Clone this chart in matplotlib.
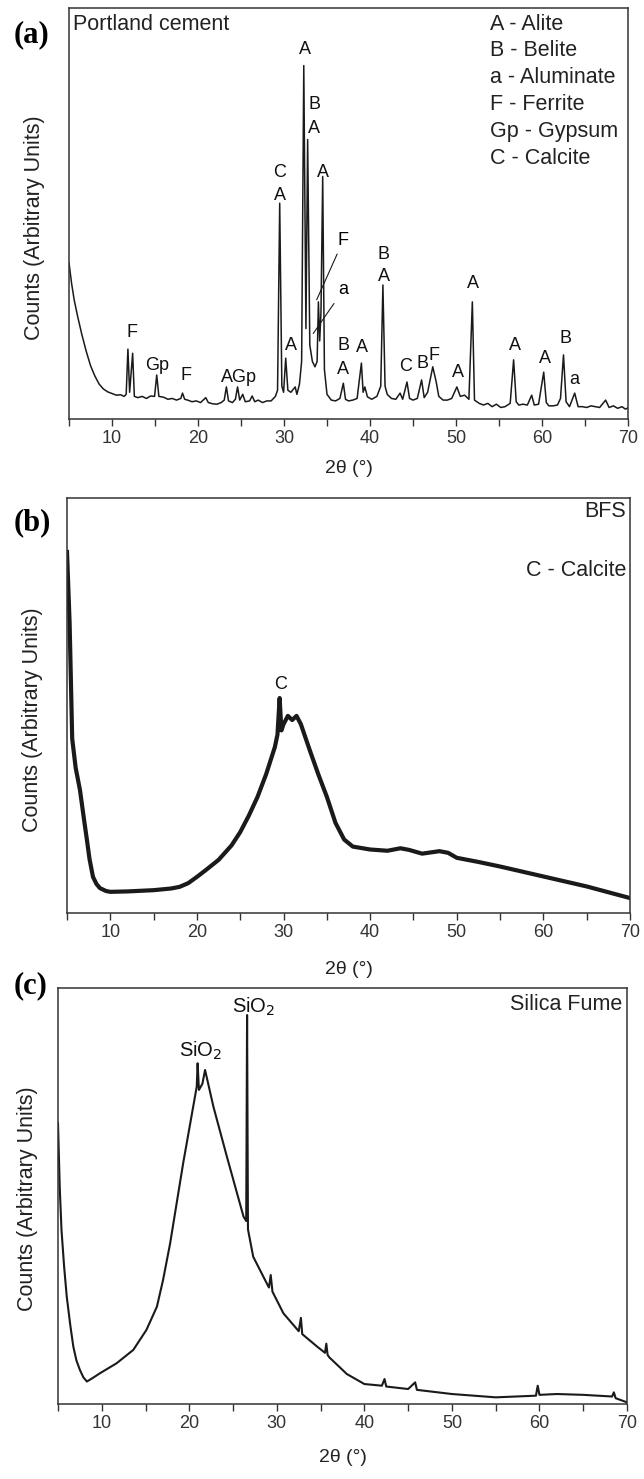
import matplotlib
matplotlib.use("Agg")
import matplotlib.pyplot as plt
from matplotlib.ticker import MultipleLocator

plt.rcParams['font.family'] = ['Liberation Sans', 'DejaVu Sans']

# (a) Portland cement: 2theta / counts
tt_a = [5.0, 5.3, 5.6, 6.0, 6.5, 7.0, 7.5, 8.0, 8.5, 9.0, 9.5, 10.0, 10.5, 11.0, 11.4,
        11.65, 11.85, 12.05, 12.4, 12.6, 13.0, 13.5, 14.0, 14.5, 14.95, 15.2, 15.45,
        16.0, 16.5, 17.0, 17.5, 18.0, 18.2, 18.45, 18.8, 19.3, 19.8, 20.3, 20.9, 21.2,
        21.7, 22.2, 22.7, 23.05, 23.3, 23.55, 24.0, 24.35, 24.6, 24.85, 25.2, 25.5, 26.0,
        26.3, 26.6, 27.0, 27.5, 28.0, 28.5, 29.0, 29.25, 29.5, 29.75, 29.95, 30.2, 30.45,
        30.8, 31.3, 31.5, 31.8, 32.05, 32.3, 32.55, 32.75, 33.0, 33.3, 33.6, 33.85, 34.0,
        34.15, 34.3, 34.5, 34.7, 35.0, 35.5, 36.0, 36.5, 36.9, 37.15, 37.5, 38.0, 38.5,
        39.0, 39.2, 39.4, 39.7, 40.2, 40.8, 41.25, 41.5, 41.75, 42.0, 42.5, 43.0, 43.5,
        43.8, 44.3, 44.6, 45.0, 45.5, 46.0, 46.3, 46.7, 47.3, 47.7, 48.0, 48.5, 49.0, 49.5,
        50.1, 50.5, 51.0, 51.5, 51.9, 52.15, 52.7, 53.2, 53.7, 54.2, 54.7, 55.2, 55.7,
        56.3, 56.7, 57.0, 57.3, 57.8, 58.3, 58.8, 59.1, 59.6, 60.2, 60.5, 60.8, 61.3,
        61.8, 62.15, 62.5, 62.8, 63.2, 63.8, 64.2, 64.7, 65.2, 65.7, 66.2, 66.7, 67.4,
        67.8, 68.3, 68.8, 69.3, 69.7, 70.0]
counts_a = [38, 33, 29, 25, 20.5, 16.5, 13, 10.5, 8.5, 7.3, 6.6, 6.2, 5.8, 5.9, 5.5,
            6.0, 17.0, 6.5, 16.0, 5.5, 5.2, 5.5, 5.0, 5.6, 5.5, 10.7, 5.5,
            5.3, 4.8, 5.0, 4.6, 5.0, 6.3, 4.8, 4.6, 4.2, 4.4, 4.0, 5.2, 4.0,
            3.7, 3.6, 4.0, 4.6, 7.8, 4.4, 4.0, 4.8, 7.8, 4.6, 6.0, 4.2, 4.4,
            5.6, 4.2, 4.6, 4.0, 4.4, 4.4, 5.5, 7.0, 52.5, 8.0, 6.5, 14.8, 7.0,
            6.5, 7.8, 6.0, 8.5, 14.0, 86.0, 22.0, 68.0, 18.0, 14.0, 12.7, 14.0, 28.5,
            19.0, 26.0, 59.0, 12.0, 6.0, 4.6, 4.4, 5.0, 8.7, 4.8, 4.4, 4.6, 5.0,
            13.6, 6.5, 7.8, 5.4, 4.8, 5.5, 8.0, 32.6, 8.0, 6.0, 5.0, 4.8, 6.3,
            4.8, 9.0, 5.0, 4.6, 5.0, 9.5, 5.2, 6.5, 12.7, 9.0, 5.5, 4.6, 4.6, 5.0,
            7.8, 5.5, 5.8, 4.8, 28.5, 4.6, 3.8, 3.4, 3.8, 3.0, 3.6, 2.8, 3.0,
            3.8, 14.4, 4.2, 3.4, 3.6, 3.4, 5.8, 3.4, 3.6, 11.4, 4.0, 3.2, 3.2,
            3.4, 5.0, 15.6, 4.2, 3.0, 6.3, 3.0, 3.0, 2.8, 3.2, 3.0, 2.8, 4.6,
            2.8, 3.2, 2.6, 3.0, 2.4, 2.7]

phase_txt_a = ["F", "Gp", "F", "AGp", "C", "A", "A", "A", "B", "A", "A", "B", "A", "A",
               "B", "A", "C", "B", "F", "A", "A", "A", "A", "B", "a"]
phase_x_a = [12.3, 15.3, 18.6, 24.8, 29.5, 29.5, 30.8, 32.4, 33.5, 33.5, 34.5, 36.9, 36.9,
             39.1, 41.6, 41.6, 44.1, 46.1, 47.4, 50.2, 52.0, 56.9, 60.4, 62.7, 63.8]
phase_y_a = [21.0, 13.1, 10.5, 10.2, 60.0, 54.3, 18.0, 90.0, 76.4, 70.8, 60.0, 18.0, 12.0,
             17.3, 40.0, 34.6, 12.7, 13.6, 15.5, 11.2, 33.0, 18.0, 14.8, 19.7, 9.5]

legend_a = ["A - Alite", "B - Belite", "a - Aluminate", "F - Ferrite", "Gp - Gypsum",
            "C - Calcite"]

# (b) BFS
tt_b = [5.0, 5.3, 5.6, 6.0, 6.5, 7.0, 7.3, 7.6, 8.0, 8.4, 8.8, 9.5, 10, 12, 14, 15, 17,
        18, 19, 20, 21, 22.5, 24, 25, 26, 27, 28, 29, 29.3, 29.55, 29.75, 30.0, 30.5,
        31.0, 31.5, 32.0, 33.0, 34.0, 35.0, 36.0, 37.0, 38.0, 40.0, 42, 43.5, 44.5, 46,
        48, 49, 50, 52.5, 55, 57.5, 60, 62.5, 65, 67.5, 70]
counts_b = [87, 70, 42, 35, 29.6, 22, 17.6, 13, 8.7, 7, 6.0, 5.3, 5.1, 5.2, 5.4, 5.5,
            5.9, 6.3, 7.2, 8.7, 10.3, 12.8, 16.3, 19.5, 23.5, 28, 33.5, 40, 43, 51.8,
            44, 45.5, 47.5, 46.5, 47.5, 45.5, 39.4, 33.5, 28, 21.7, 17.7, 16.0, 15.3,
            15.0, 15.6, 15.2, 14.3, 14.9, 14.5, 13.3, 12.3, 11.2, 10.0, 8.8, 7.6, 6.4,
            5.0, 3.6]

# (c) Silica fume
tt_c = [5.0, 5.2, 5.4, 5.7, 6.0, 6.4, 6.75, 7.1, 7.5, 7.9, 8.3, 9.0, 9.8, 11.7, 13.6,
        15.1, 16.3, 17.0, 17.8, 19.3, 20.85, 20.95, 21.1, 21.5, 21.8, 22.75, 24.3, 26.2,
        26.5, 26.6, 26.7, 27.3, 28.85, 29.1, 29.3, 29.5, 30.75, 32.5, 32.75, 32.9, 34.6,
        35.5, 35.65, 35.8, 36, 38, 40, 42, 42.3, 42.5, 45, 45.8, 46, 50, 55, 59.6, 59.8,
        60.0, 62, 65, 68.3, 68.5, 68.7, 70]
counts_c = [67.5, 52, 41.8, 33, 25.8, 19, 13.8, 10.5, 8.2, 6.4, 5.4, 6.3, 7.4, 9.8, 13.0,
            17.8, 23.4, 29.8, 38.5, 57.9, 76.3, 81.9, 75.5, 77, 80.3, 71.5, 59.4, 45.0,
            44, 93.5, 42, 35.4, 29, 28, 31, 27, 21.8, 17.5, 20.7, 16.8, 13.8,
            12.3, 14.5, 11.8, 11.2, 7.2, 4.8, 4.4, 6.0, 4.2, 3.6, 5.2, 3.4, 2.4, 1.6, 2.0,
            4.4, 2.2, 2.4, 2.2, 1.8, 2.8, 1.4, 0.4]

W, H = 644, 1479
fig = plt.figure(figsize=(W / 100, H / 100), dpi=100)

def make_axes(left, top, right, bottom):
    return fig.add_axes([left / W, 1 - bottom / H, (right - left) / W, (bottom - top) / H])

ax_a = make_axes(69, 8, 628, 419)
ax_b = make_axes(67, 498, 630, 913)
ax_c = make_axes(58, 988, 627, 1404)

ink = '#1a1a1a'
for ax, lab_y, pad in [(ax_a, 0.465, 9), (ax_b, 0.465, 14), (ax_c, 0.493, 12)]:
    ax.set_xlim(5, 70)
    ax.set_ylim(0, 100)
    ax.set_yticks([])
    ax.xaxis.set_major_locator(MultipleLocator(10))
    ax.xaxis.set_minor_locator(MultipleLocator(5))
    ax.set_xticks([10, 20, 30, 40, 50, 60, 70])
    ax.tick_params(axis='x', which='both', direction='out', length=5, width=1.0,
                   color='#333333', labelsize=13, labelcolor='#333333', pad=3)
    for s in ax.spines.values():
        s.set_linewidth(1.1)
        s.set_color('#333333')
    ax.set_xlabel("2θ (°)", fontsize=14, color='#222222', labelpad=pad)
    ax.set_ylabel("Counts (Arbitrary Units)", fontsize=15.5, color='#222222')
    ax.yaxis.set_label_coords(-0.043, lab_y)

ax_c.yaxis.set_label_coords(-0.035, 0.493)

# panel (a)
ax_a.plot(tt_a, counts_a, color=ink, lw=1.1)
for t, x, y in zip(phase_txt_a, phase_x_a, phase_y_a):
    ax_a.text(x, y, t, fontsize=13, ha='center', va='center', color='#111111')
ax_a.annotate("F", xy=(33.8, 29), xytext=(36.9, 43.5), fontsize=13, ha='center',
              va='center', arrowprops=dict(arrowstyle='-', lw=0.8, color=ink, shrinkA=2, shrinkB=0))
ax_a.annotate("a", xy=(33.4, 20.8), xytext=(36.9, 31.4), fontsize=13, ha='center',
              va='center', arrowprops=dict(arrowstyle='-', lw=0.8, color=ink, shrinkA=2, shrinkB=0))
ax_a.text(0.008, 96, "Portland cement", transform=ax_a.get_yaxis_transform(),
          fontsize=15.5, va='center', color='#222222')
for i, s in enumerate(legend_a):
    ax_a.text(0.753, 96.1 - i * 6.55, s, transform=ax_a.get_yaxis_transform(),
              fontsize=15.5, va='center', color='#222222')

# panel (b)
ax_b.plot(tt_b, counts_b, color=ink, lw=3.0, solid_joinstyle='round')
ax_b.text(29.6, 55, "C", fontsize=13, ha='center', va='center', color='#111111')
ax_b.text(0.993, 96.7, "BFS", transform=ax_b.get_yaxis_transform(), fontsize=15.5,
          ha='right', va='center', color='#222222')
ax_b.text(0.993, 82.5, "C - Calcite", transform=ax_b.get_yaxis_transform(), fontsize=15.5,
          ha='right', va='center', color='#222222')

# panel (c)
ax_c.plot(tt_c, counts_c, color=ink, lw=1.5)
ax_c.text(21.3, 85, "SiO$_2$", fontsize=14.5, ha='center', va='center', color='#111111')
ax_c.text(27.3, 95.4, "SiO$_2$", fontsize=14.5, ha='center', va='center', color='#111111')
ax_c.text(0.991, 96, "Silica Fume", transform=ax_c.get_yaxis_transform(), fontsize=15.5,
          ha='right', va='center', color='#222222')

# panel letters
for lab, px, py in [("(a)", 32, 35), ("(b)", 32, 523), ("(c)", 31, 986)]:
    fig.text(px / W, 1 - py / H, lab, fontsize=22, fontweight='bold',
             family=['Liberation Serif', 'DejaVu Serif'], ha='center', va='center')

fig.savefig("out.png", dpi=100)
